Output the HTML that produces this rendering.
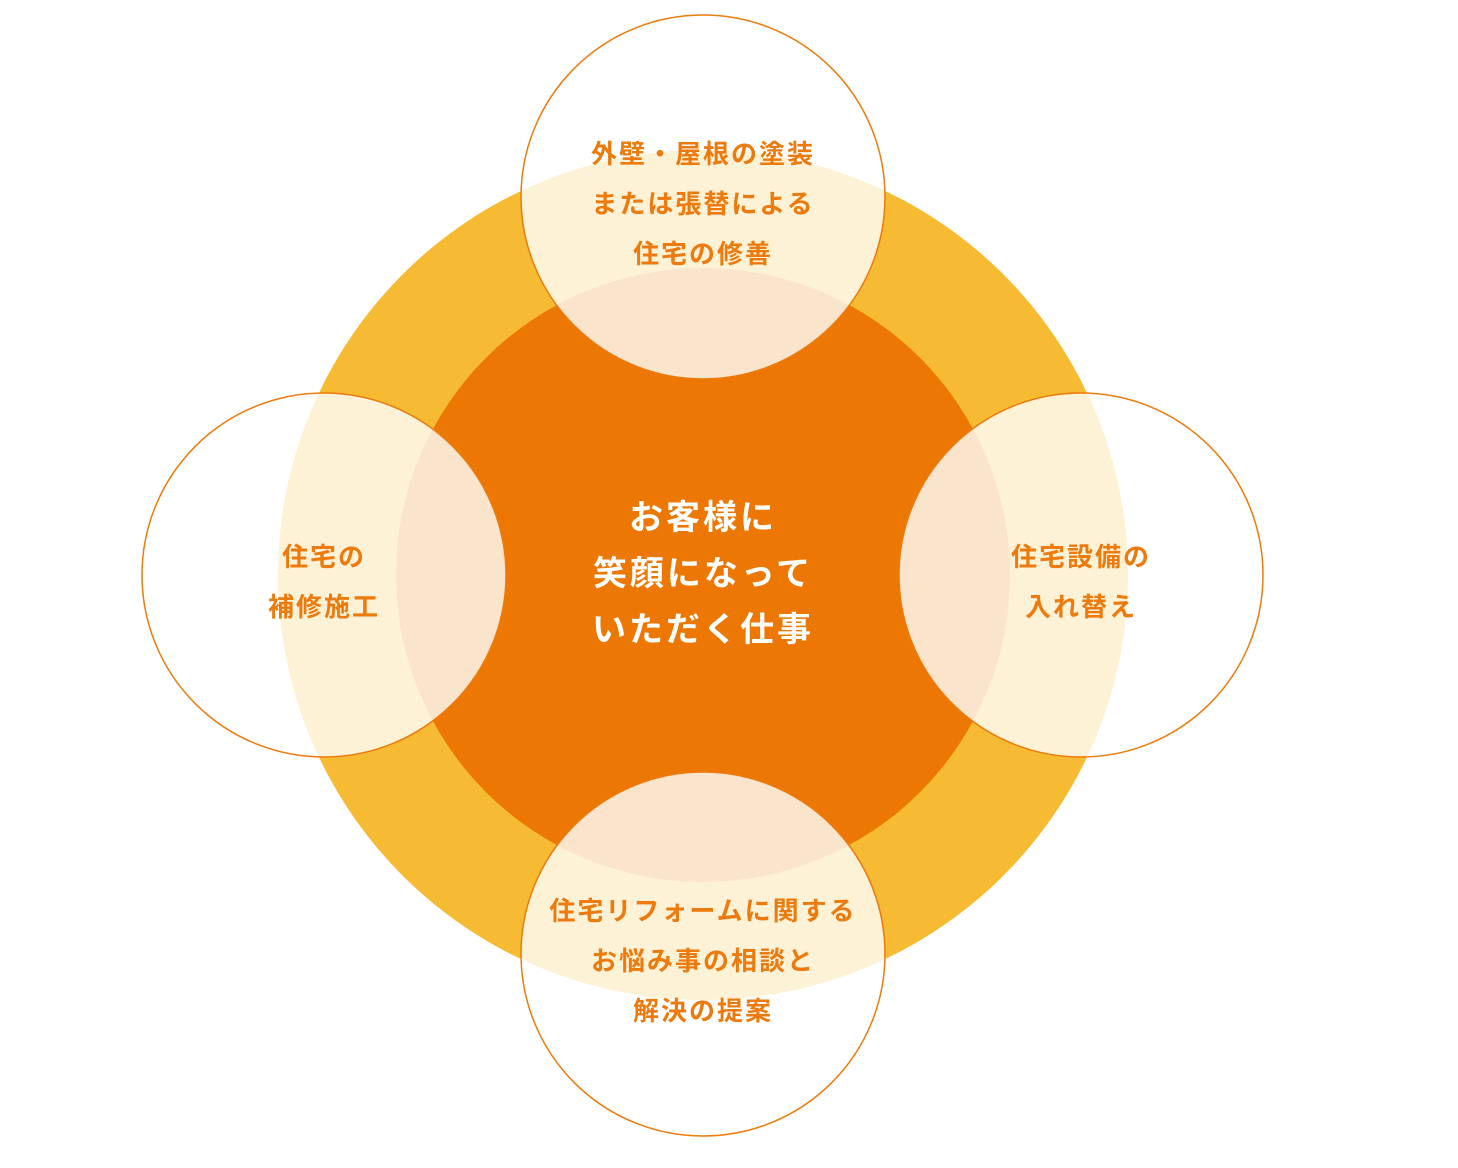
<!DOCTYPE html>
<html><head><meta charset="utf-8"><style>
html,body{margin:0;padding:0;background:#fff;}
body{width:1458px;height:1168px;position:relative;overflow:hidden;font-family:"Liberation Sans","Noto Sans CJK JP",sans-serif;}
.t{position:absolute;text-align:center;color:#ec7a0c;font-weight:bold;font-size:26px;line-height:50px;letter-spacing:2px;white-space:nowrap;transform:translate(-50%,-50%);}
.c{color:#fff;font-size:34px;line-height:56px;letter-spacing:3px;}
</style></head><body>
<svg width="1458" height="1168" style="position:absolute;left:0;top:0">
<circle cx="703" cy="575" r="425" fill="#f6bb32"/>
<circle cx="703" cy="575" r="307" fill="#ec7702"/>
<g fill="#fff" fill-opacity="0.8" stroke="#ec7a0c" stroke-width="1.5">
<circle cx="703" cy="197" r="182"/>
<circle cx="324" cy="575" r="182"/>
<circle cx="1081" cy="575" r="182"/>
<circle cx="703" cy="954" r="182"/>
</g>
</svg>
<div class="t" style="left:703px;top:204px">外壁・屋根の塗装<br>または張替による<br>住宅の修善</div>
<div class="t" style="left:324px;top:582px">住宅の<br>補修施工</div>
<div class="t" style="left:1081px;top:582px">住宅設備の<br>入れ替え</div>
<div class="t" style="left:703px;top:961px">住宅リフォームに関する<br>お悩み事の相談と<br>解決の提案</div>
<div class="t c" style="left:703px;top:574px">お客様に<br>笑顔になって<br>いただく仕事</div>
</body></html>
